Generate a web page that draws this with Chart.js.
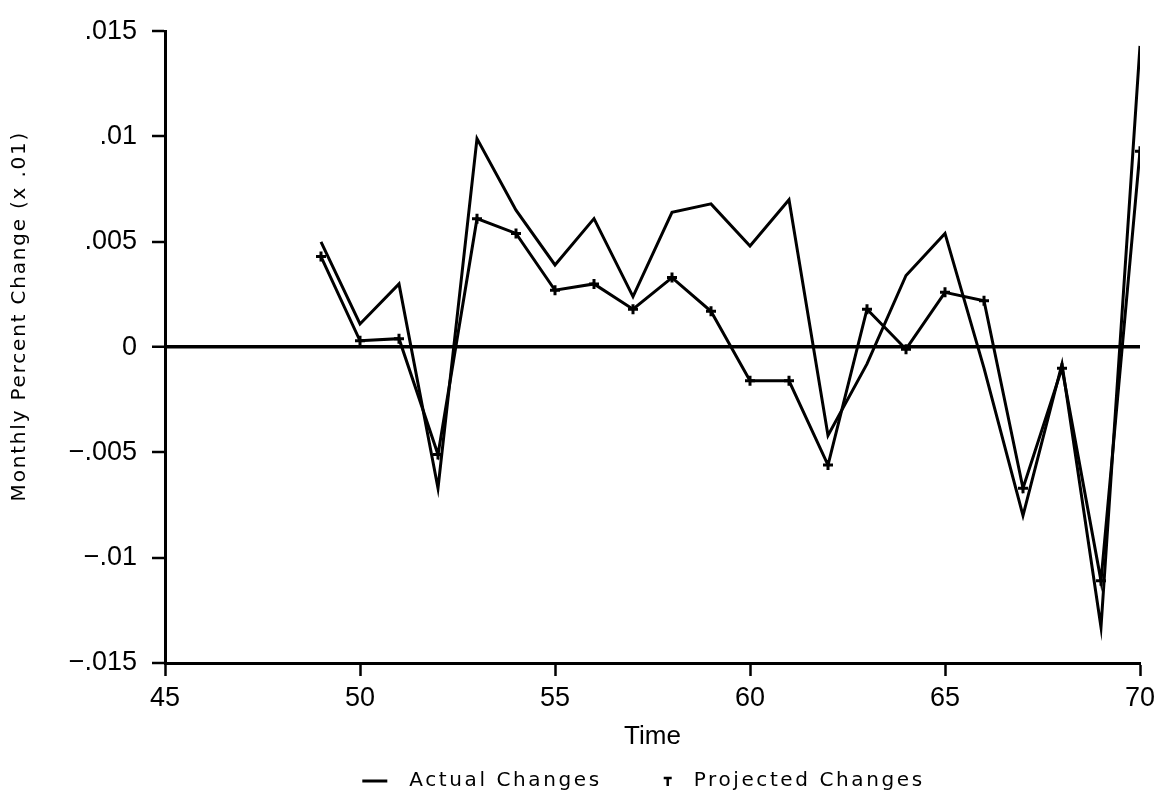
<!DOCTYPE html>
<html>
<head>
<meta charset="utf-8">
<script src="https://cdn.jsdelivr.net/npm/chart.js@4/dist/chart.umd.min.js"></script>
<style>
  html, body { margin: 0; padding: 0; background: #fff; }
  #wrap { width: 1163px; height: 799px; }
</style>
</head>
<body>
<div id="wrap"><canvas id="c" width="1163" height="799"></canvas></div>
<script>
// Monthly observations (time index) and the two series
const months = [49, 50, 51, 52, 53, 54, 55, 56, 57, 58, 59, 60, 61, 62, 63, 64, 65, 66, 67, 68, 69, 70];
const actualChanges = [0.0050, 0.0011, 0.0030, -0.0067, 0.0099, 0.0065, 0.0039, 0.0061, 0.0024, 0.0064, 0.0068,
                       0.0048, 0.0070, -0.0042, -0.0008, 0.0034, 0.0054, -0.0010, -0.0080, -0.0008, -0.0133, 0.0143];
const projectedChanges = [0.0043, 0.0003, 0.0004, -0.0051, 0.0061, 0.0054, 0.0027, 0.0030, 0.0018, 0.0033, 0.0017,
                          -0.0016, -0.0016, -0.0056, 0.0018, -0.0001, 0.0026, 0.0022, -0.0067, -0.0010, -0.0111, 0.0093];
const seriesNames = ['Actual Changes', 'Projected Changes'];
const xTickValues = [45, 50, 55, 60, 65, 70];
const yTickValues = [-0.015, -0.01, -0.005, 0, 0.005, 0.01, 0.015];
const yTickLabels = ['\u2212.015', '\u2212.01', '\u2212.005', '0', '.005', '.01', '.015'];
const xAxisTitle = 'Time';
const yAxisTitle = 'Monthly Percent Change (x .01)';

const INK = '#000';
const TICK_FONT = { family: '"Liberation Sans", Arial, sans-serif', size: 27 };
const LABEL_FAMILY = '"DejaVu Sans", sans-serif';

const toPoints = (vals) => vals.map((v, i) => ({ x: months[i], y: v }));

// Rotated y title and the bottom legend, drawn with wider letter spacing
const annotations = {
  id: 'annotations',
  afterDraw(chart) {
    const { ctx, chartArea } = chart;
    ctx.save();
    ctx.fillStyle = INK;
    ctx.strokeStyle = INK;

    // y-axis title
    ctx.font = '20px ' + LABEL_FAMILY;
    ctx.letterSpacing = '1.8px';
    ctx.textAlign = 'center';
    ctx.textBaseline = 'middle';
    ctx.save();
    ctx.translate(20, (chartArea.top + chartArea.bottom) / 2 - 31);
    ctx.rotate(-Math.PI / 2);
    ctx.fillText(yAxisTitle, 0, 0);
    ctx.restore();

    // legend
    ctx.letterSpacing = '2.6px';
    ctx.textAlign = 'left';
    const y = 781;
    const sample = 25, gapA = 22, gapB = 66, gapC = 26;
    const wA = ctx.measureText(seriesNames[0]).width;
    const wB = ctx.measureText(seriesNames[1]).width;
    const total = sample + gapA + wA + gapB + gapC + wB;
    let x = (chartArea.left + chartArea.right) / 2 - 9 - total / 2;
    ctx.lineWidth = 3;
    ctx.beginPath();
    ctx.moveTo(x, y);
    ctx.lineTo(x + sample, y);
    ctx.stroke();
    x += sample + gapA;
    ctx.fillText(seriesNames[0], x, y);
    x += wA + gapB;
    // cross marker sample
    ctx.lineWidth = 2.5;
    ctx.beginPath();
    ctx.moveTo(x - 4, y - 3); ctx.lineTo(x + 4, y - 3);
    ctx.moveTo(x, y - 4); ctx.lineTo(x, y + 5);
    ctx.stroke();
    x += gapC;
    ctx.fillText(seriesNames[1], x, y);
    ctx.restore();
  }
};

new Chart(document.getElementById('c'), {
  type: 'line',
  data: {
    datasets: [
      {
        label: seriesNames[0],
        data: toPoints(actualChanges),
        borderColor: INK,
        borderWidth: 3,
        pointRadius: 0,
        tension: 0,
        fill: false
      },
      {
        label: seriesNames[1],
        data: toPoints(projectedChanges),
        borderColor: INK,
        borderWidth: 3,
        pointStyle: 'cross',
        pointRadius: 5,
        pointBorderWidth: 3,
        pointBorderColor: INK,
        pointBackgroundColor: INK,
        tension: 0,
        fill: false
      }
    ]
  },
  options: {
    responsive: false,
    animation: false,
    devicePixelRatio: 1,
    layout: { padding: { left: 0, right: 23, top: 24, bottom: 0 } },
    plugins: { legend: { display: false }, tooltip: { enabled: false } },
    scales: {
      x: {
        type: 'linear',
        min: xTickValues[0],
        max: xTickValues[xTickValues.length - 1],
        afterBuildTicks: (s) => { s.ticks = xTickValues.map(v => ({ value: v })); },
        ticks: { color: INK, font: TICK_FONT, padding: 6, maxRotation: 0, callback: (v) => String(v) },
        grid: { drawOnChartArea: false, tickLength: 13, tickColor: INK, tickWidth: 2.5 },
        border: { display: true, color: INK, width: 3 },
        title: { display: true, text: xAxisTitle, color: INK, font: { family: TICK_FONT.family, size: 26 }, padding: { top: 0, bottom: 47 } },
        afterFit: (s) => { s.height = 136; }
      },
      y: {
        type: 'linear',
        min: yTickValues[0],
        max: yTickValues[yTickValues.length - 1],
        afterBuildTicks: (s) => { s.ticks = yTickValues.map(v => ({ value: v })); },
        ticks: {
          color: INK, font: TICK_FONT, padding: 15,
          callback: (v) => yTickLabels[yTickValues.findIndex(t => Math.abs(t - v) < 1e-9)]
        },
        grid: {
          drawOnChartArea: true,
          color: (c) => (c.tick && Math.abs(c.tick.value) < 1e-9) ? INK : 'rgba(0,0,0,0)',
          lineWidth: (c) => (c.tick && Math.abs(c.tick.value) < 1e-9) ? 3.5 : 0,
          tickLength: 13, tickColor: INK, tickWidth: 2.5
        },
        border: { display: true, color: INK, width: 3 },
        afterFit: (s) => { s.width = 165; }
      }
    }
  },
  plugins: [annotations]
});
</script>
</body>
</html>
